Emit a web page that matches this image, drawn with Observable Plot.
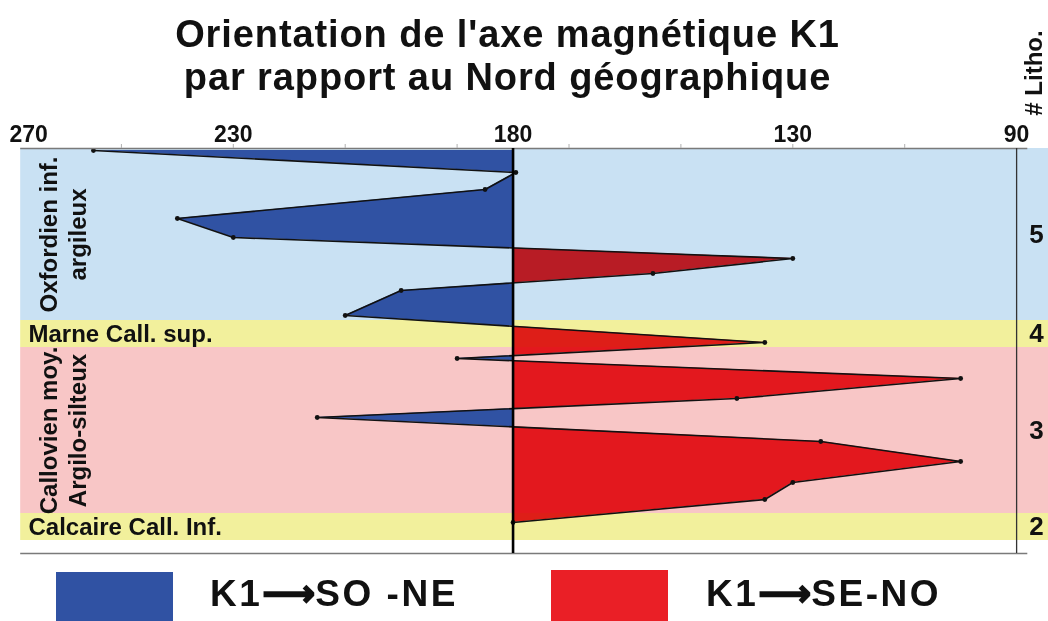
<!DOCTYPE html>
<html>
<head>
<meta charset="utf-8">
<script src="https://cdn.jsdelivr.net/npm/d3@7"></script>
<script src="https://cdn.jsdelivr.net/npm/@observablehq/plot@0.6"></script>
<style>
  html, body { margin: 0; padding: 0; background: #fff; }
  body { width: 1048px; height: 621px; overflow: hidden; position: relative;
         font-family: "Liberation Sans", Arial, sans-serif; color: #111; }
  #title { height: 100px; box-sizing: border-box; padding-top: 13px; width: 1015px;
           text-align: center; font-weight: bold; font-size: 38px; line-height: 43px; letter-spacing: 0.9px; }
  #litho { position: absolute; left: 1034px; top: 73px; transform: translate(-50%, -50%) rotate(-90deg);
           white-space: nowrap; font-weight: bold; font-size: 24px; line-height: 24px; }
  #chart { height: 460px; }
  #legend { position: relative; height: 61px; }
  .sw { position: absolute; width: 117px; height: 60px; }
  .lg { position: absolute; font-weight: bold; font-size: 37px; line-height: 36px; white-space: nowrap; letter-spacing: 2.5px; }
  .ar { font-family: "DejaVu Sans", sans-serif; font-weight: bold; letter-spacing: 0; -webkit-text-stroke: 1.6px #111; }
</style>
</head>
<body>
<div id="title"><div>Orientation de l'axe magnétique K1</div><div>par rapport au Nord géographique</div></div>
<div id="litho"># Litho.</div>
<div id="chart"></div>
<div id="legend">
  <div class="sw" style="left:56px;top:12px;background:#3052a3"></div>
  <div class="lg" style="left:210px;top:16px">K1<span class="ar">⟶</span>SO -NE</div>
  <div class="sw" style="left:551px;top:10px;background:#ea1f26"></div>
  <div class="lg" style="left:706px;top:16px">K1<span class="ar">⟶</span>SE-NO</div>
</div>
<script>
const depth = [2, 24, 41, 70, 89, 110, 125, 142, 167, 194, 210, 230, 250, 269, 293, 313, 334, 351, 374];
const angle = [255, 179.5, 185, 240, 230, 130, 155, 200, 210, 135, 190, 100, 140, 215, 125, 100, 130, 135, 180];

// Lithological units
const bandNames = ["Oxfordien inf.\nargileux", "Marne Call. sup.", "Callovien moy.\nArgilo-silteux", "Calcaire Call. Inf."];
const bandTop = [0, 172, 199, 365];
const bandBottom = [172, 199, 365, 392];
const bandColor = ["#c9e1f3", "#f2f09c", "#f8c6c6", "#f2f09c"];
const lithoNumber = ["5", "4", "3", "2"];
const bandVertical = [true, false, true, false];

// Axis
const tickLabels = [270, 230, 180, 130, 90];
const minorTicks = [250, 230, 210, 190, 170, 150, 130, 110];
const xDomain = [270, 84.3];
const yDomain = [0, 405];

const blue = "#3052a3";
const red = "#ea1f26";

const points = depth.map((d, i) => ({depth: d, angle: angle[i]}));
const bands = bandNames.map((name, i) => ({
  name, top: bandTop[i], bottom: bandBottom[i], mid: (bandTop[i] + bandBottom[i]) / 2,
  color: bandColor[i], litho: lithoNumber[i], vertical: bandVertical[i]
}));

const font = {fontWeight: "bold", fill: "#111"};

const plot = Plot.plot({
  width: 1048, height: 460,
  marginTop: 48, marginBottom: 7, marginLeft: 9, marginRight: 0,
  x: {domain: xDomain, axis: null},
  y: {domain: yDomain, reverse: true, axis: null},
  style: {fontFamily: "Liberation Sans, Arial, sans-serif", background: "#fff", overflow: "visible"},
  marks: [
    Plot.rect(bands, {x1: 268, x2: xDomain[1], y1: "top", y2: "bottom", fill: "color"}),
    Plot.areaX(points, {y: "depth", x1: 180, x2: "angle", fill: blue}),
    Plot.areaX(points, {y: "depth", x1: 180, x2: "angle", fill: red}),
    Plot.lineX(points, {x: "angle", y: "depth", stroke: "#111", strokeWidth: 1.6}),
    Plot.dot(points, {x: "angle", y: "depth", r: 2.4, fill: "#111", stroke: "none"}),
    Plot.ruleY([yDomain[0], yDomain[1]], {x1: 268, x2: 88, stroke: "#7a7a7a", strokeWidth: 1.6}),
    Plot.ruleX(minorTicks, {x: d => d, y1: -4, y2: 0, stroke: "#b0b0b0"}),
    Plot.ruleX([180], {stroke: "#000", strokeWidth: 2.6}),
    Plot.ruleX([90], {stroke: "#333", strokeWidth: 1.3}),
    Plot.text(tickLabels.slice(0, 1), {x: d => d, text: d => String(d), frameAnchor: "top", lineAnchor: "middle", dy: -14, textAnchor: "start", fontSize: 23, ...font}),
    Plot.text(tickLabels.slice(1), {x: d => d, text: d => String(d), frameAnchor: "top", lineAnchor: "middle", dy: -14, textAnchor: "middle", fontSize: 23, ...font}),
    Plot.text(bands.filter(b => b.vertical), {y: "mid", text: "name", frameAnchor: "left", lineAnchor: "middle", textAnchor: "middle", dx: 53, rotate: -90, lineHeight: 1.2, fontSize: 24, ...font}),
    Plot.text(bands.filter(b => !b.vertical), {y: "mid", text: "name", frameAnchor: "left", lineAnchor: "middle", dx: 19, textAnchor: "start", fontSize: 24, ...font}),
    Plot.text(bands, {y: "mid", text: "litho", frameAnchor: "right", lineAnchor: "middle", textAnchor: "middle", dx: -12, fontSize: 26, ...font})
  ]
});

document.getElementById("chart").appendChild(plot);

// Split the filled area at 180°: west of 180 in blue, east of 180 in red
const svg = d3.select(plot);
const x180 = plot.scale("x").apply(180);
const defs = svg.insert("defs", ":first-child");
defs.append("clipPath").attr("id", "clip-sone").append("rect")
  .attr("x", 0).attr("y", 0).attr("width", x180).attr("height", 460);
defs.append("clipPath").attr("id", "clip-seno").append("rect")
  .attr("x", x180).attr("y", 0).attr("width", 1048 - x180).attr("height", 460);
const areas = svg.selectAll('g[aria-label="area"]').nodes();
d3.select(areas[0]).attr("clip-path", "url(#clip-sone)");
d3.select(areas[1]).attr("clip-path", "url(#clip-seno)").style("mix-blend-mode", "multiply");
</script>
</body>
</html>
